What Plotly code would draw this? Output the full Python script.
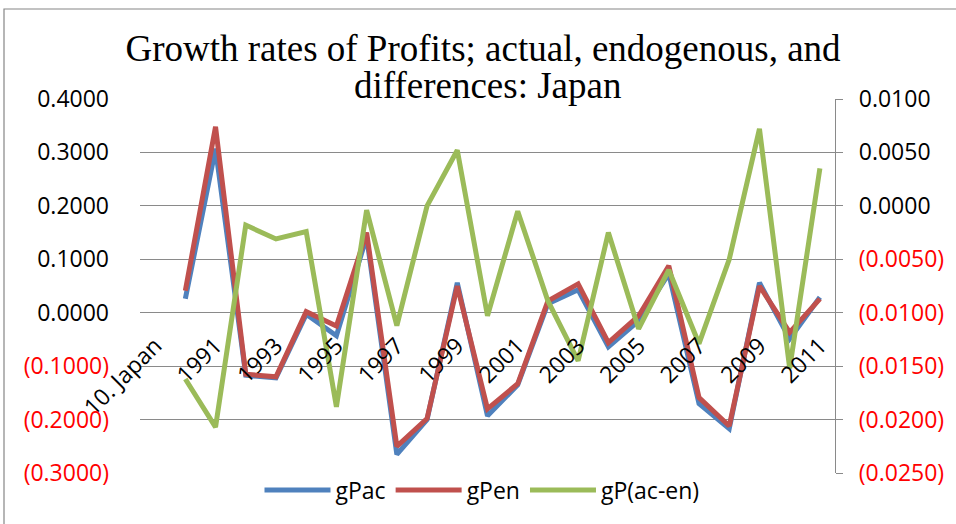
import plotly.graph_objects as go

# categories: first slot is the country label, then the years
categories = ["10. Japan"] + [str(y) for y in range(1990, 2012)]

gPac = [None, 0.026, 0.307, -0.117, -0.122, -0.003, -0.043, 0.142, -0.265, -0.200,
        0.056, -0.193, -0.135, 0.017, 0.043, -0.064, -0.015, 0.073, -0.170, -0.217,
        0.056, -0.049, 0.029]
gPen = [None, 0.041, 0.348, -0.115, -0.120, 0.002, -0.025, 0.150, -0.250, -0.198,
        0.050, -0.180, -0.133, 0.022, 0.054, -0.056, -0.006, 0.088, -0.159, -0.212,
        0.050, -0.037, 0.026]
gPdiff = [None, -0.0162, -0.0207, -0.0018, -0.0031, -0.0024, -0.0188, -0.0004, -0.0112, 0.0000,
          0.0052, -0.0103, -0.0005, -0.0089, -0.0145, -0.0025, -0.0115, -0.0060, -0.0129, -0.0050,
          0.0072, -0.0152, 0.0035]

left_ticks = [0.4, 0.3, 0.2, 0.1, 0.0, -0.1, -0.2, -0.3]
right_ticks = [0.01, 0.005, 0.0, -0.005, -0.01, -0.015, -0.02, -0.025]

title_lines = ["Growth rates of Profits; actual, endogenous, and", "differences: Japan"]


def fmt(v):
    # excel style accounting format: negatives in red parentheses
    if v < -1e-12:
        return "<span style='color:#FF0000'>({:.4f})</span>".format(-v)
    return "{:.4f}".format(abs(v))


font = "Open Sans"
grid = "#8A8A8A"
W, H = 956, 524
L, R, T, B = 140, 121, 99, 51
PW, PH = W - L - R, H - T - B


def px(x):
    return (x - L) / PW


def py(y):
    return (H - B - y) / PH


fig = go.Figure()
fig.add_trace(go.Scatter(x=categories, y=gPac, mode="lines", name="gPac",
                         line=dict(color="#4F81BD", width=5)))
fig.add_trace(go.Scatter(x=categories, y=gPen, mode="lines", name="gPen",
                         line=dict(color="#C0504D", width=5)))
fig.add_trace(go.Scatter(x=categories, y=gPdiff, mode="lines", name="gP(ac-en)",
                         line=dict(color="#9BBB59", width=5), yaxis="y2"))

# chart-area frame: only the left and top edges fall inside the picture
frame = "M {x0},{y0} L {x0},{y1} L {x1},{y1}".format(x0=px(4), y0=py(530), y1=py(9), x1=px(962))

fig.update_layout(
    width=W, height=H,
    margin=dict(l=L, r=R, t=T, b=B),
    paper_bgcolor="white", plot_bgcolor="white",
    font=dict(family=font, size=23, color="black"),
    title=dict(text=title_lines[0],
               font=dict(family="Liberation Serif", size=37, color="black"),
               x=483 / W, xanchor="center", xref="container",
               y=1 - 48 / H, yanchor="middle", yref="container"),
    xaxis=dict(type="category", range=[-0.5, 22.5], tickvals=categories[::2],
               tickangle=-45, showgrid=False, showline=False, ticks="",
               anchor="free", position=(0.0 - (-0.3)) / 0.7, tickfont=dict(size=23),
               ticklabelstandoff=14, automargin=False),
    yaxis=dict(range=[-0.3, 0.4], tickvals=left_ticks, ticktext=[fmt(v) for v in left_ticks],
               showgrid=True, gridcolor=grid, gridwidth=1.3, zeroline=False,
               showline=False, ticks="", ticklabelstandoff=30, automargin=False),
    yaxis2=dict(range=[-0.025, 0.01], tickvals=right_ticks, ticktext=[fmt(v) for v in right_ticks],
                overlaying="y", side="right", showgrid=False, zeroline=False,
                showline=True, linecolor=grid, linewidth=1.3,
                ticks="outside", ticklen=7, tickcolor=grid, tickwidth=1.3,
                ticklabelstandoff=11, automargin=False),
    legend=dict(orientation="h", x=px(482), xanchor="center", y=py(490), yanchor="middle",
                font=dict(size=23), itemwidth=66),
    showlegend=True,
    annotations=[dict(text=title_lines[1], xref="paper", yref="paper",
                      x=px(487), y=py(85),
                      xanchor="center", yanchor="middle", showarrow=False,
                      font=dict(family="Liberation Serif", size=37, color="black"))],
    shapes=[dict(type="path", xref="paper", yref="paper", path=frame,
                 line=dict(color="#868686", width=1.2), layer="below")],
)

# drop the default 8px body margin so the figure sits at the page origin
fig.write_html("out.html", config={"displayModeBar": False},
               post_script="document.body.style.margin='0';")
